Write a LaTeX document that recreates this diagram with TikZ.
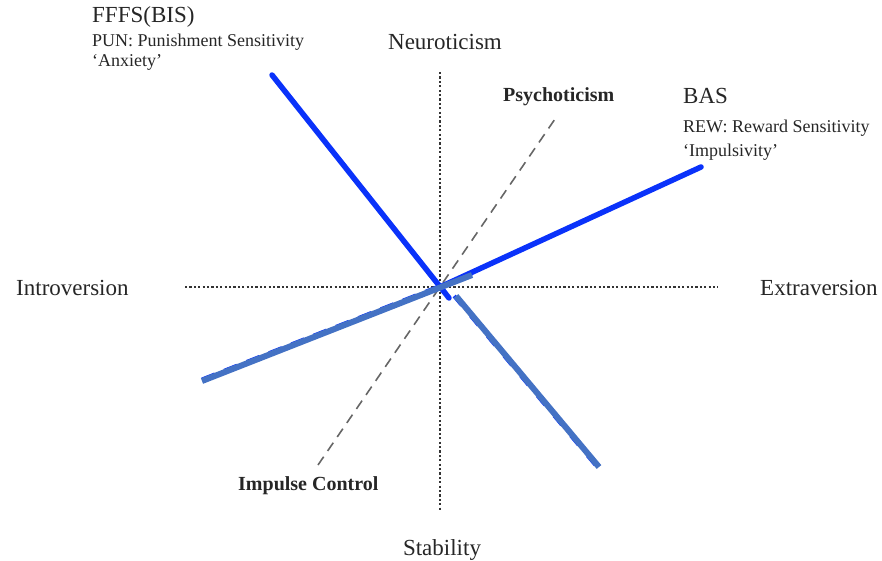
\documentclass[tikz,border=0pt]{standalone}
\usepackage{fontspec}
\setmainfont{Liberation Serif}
\begin{document}
\begin{tikzpicture}[x=1pt,y=-1pt,
  axisline/.style={line width=2.6pt,dash pattern=on 2.2pt off 2.2pt,black!80},
  diagline/.style={line width=1.6pt,dash pattern=on 10pt off 7pt,black!60},
  brightblue/.style={line width=5.5pt,draw={rgb,255:red,10;green,50;blue,250},line cap=round},
  steelblue/.style={line width=6pt,draw={rgb,255:red,68;green,114;blue,196}},
  mainlabel/.style={font=\fontsize{23}{26}\selectfont,text=black!85,inner sep=0pt},
  sublabel/.style={font=\fontsize{18}{20}\selectfont,text=black!85,inner sep=0pt},
  boldlabel/.style={font=\fontsize{20}{22}\selectfont\bfseries,text=black!85,inner sep=0pt}]
\useasboundingbox (0,0) rectangle (882,561);

% centre and line end points
\coordinate (O) at (440,287);
\coordinate (axL) at (185,287);
\coordinate (axR) at (718,287);
\coordinate (axT) at (440,72);
\coordinate (axB) at (440,510);
\coordinate (psyEnd) at (555,119);
\coordinate (impEnd) at (318,465);
\coordinate (bisEnd) at (272,75);
\coordinate (bisTail) at (449,298);
\coordinate (basEnd) at (701,167);
\coordinate (swStart) at (202,381);
\coordinate (swEnd) at (472,275);
\coordinate (seStart) at (456,296);
\coordinate (seEnd) at (599,467);

% dimension axes
\draw[axisline] (axL) -- (axR);
\draw[axisline] (axT) -- (axB);
\draw[diagline] (impEnd) -- (psyEnd);

% FFFS and BAS axes
\draw[brightblue] (bisEnd) -- (bisTail);
\draw[brightblue] (O) -- (basEnd);
\draw[brightblue,line width=4pt,line cap=butt,dash pattern=on 14pt off 10pt] ([yshift=1.5pt]swStart) -- ([yshift=1.5pt]swEnd);
\draw[steelblue] (swStart) -- (swEnd);
\draw[brightblue,line width=4pt,line cap=butt,dash pattern=on 12pt off 14pt] ([xshift=-1.8pt]seStart) -- ([xshift=-1.8pt]seEnd);
\draw[steelblue] (seStart) -- (seEnd);

% labels
\node[mainlabel,anchor=base] (neu) at (445,50) {Neuroticism};
\node[mainlabel,anchor=base] (sta) at (442,555) {Stability};
\node[mainlabel,anchor=base west] (intro) at (16,295) {Introversion};
\node[mainlabel,anchor=base west] (extra) at (760,295) {Extraversion};
\node[boldlabel,anchor=base west] (psy) at (503,102) {Psychoticism};
\node[boldlabel,anchor=base west] (imp) at (238,490) {Impulse Control};

\node[mainlabel,anchor=base west] (fffs) at (92,23) {FFFS(BIS)};
\node[sublabel,anchor=base west] (pun) at (92,47) {PUN: Punishment Sensitivity};
\node[sublabel,anchor=base west] (anx) at (92,67) {‘Anxiety’};

\node[mainlabel,anchor=base west] (bas) at (683,104) {BAS};
\node[sublabel,anchor=base west] (rew) at (683,133) {REW: Reward Sensitivity};
\node[sublabel,anchor=base west] (impl) at (683,157) {‘Impulsivity’};
\end{tikzpicture}
\end{document}
